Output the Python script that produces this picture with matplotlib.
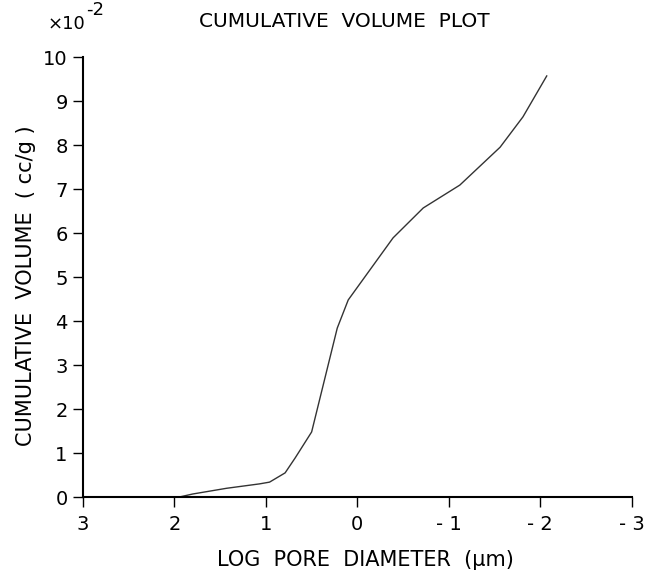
# Cumulative volume plot (pore size distribution), redrawn from a plotter scan

import matplotlib
matplotlib.use("Agg")
import matplotlib.pyplot as plt

# log pore diameter (um) vs cumulative volume (x1e-2 cc/g)
log_diam = [1.95, 1.80, 1.43, 1.07, 0.96, 0.79, 0.68, 0.50, 0.22, 0.10,
            -0.39, -0.72, -1.12, -1.56, -1.81, -2.07]
cum_vol = [0.00, 0.07, 0.20, 0.30, 0.34, 0.55, 0.89, 1.48, 3.84, 4.48,
           5.89, 6.57, 7.09, 7.95, 8.64, 9.57]

x_ticks = [3, 2, 1, 0, -1, -2, -3]
x_labels = ['3', '2', '1', '0', '- 1', '- 2', '- 3']
y_ticks = list(range(0, 11))

plt.rcParams['font.family'] = ['DejaVu Sans']

fig = plt.figure(figsize=(6.48, 5.76), dpi=100)
ax = fig.add_axes([0.128, 0.137, 0.847, 0.764])

ax.plot(log_diam, cum_vol, color='#333333', linewidth=1.0)

ax.set_xlim(3, -3)
ax.set_ylim(0, 10)
ax.set_xticks(x_ticks)
ax.set_xticklabels(x_labels)
ax.set_yticks(y_ticks)

for side in ['top', 'right']:
    ax.spines[side].set_visible(False)
for side in ['left', 'bottom']:
    ax.spines[side].set_linewidth(1.5)

ax.tick_params(axis='both', direction='out', length=7, width=1.0,
               labelsize=14, colors='black')
ax.tick_params(axis='x', pad=6)
ax.tick_params(axis='y', pad=4)

ax.set_xlabel('LOG  PORE  DIAMETER  (\u03bcm)', fontsize=15)
ax.xaxis.set_label_coords(0.515, -0.12)
ax.set_ylabel('CUMULATIVE  VOLUME  ( cc/g )', fontsize=15)
ax.yaxis.set_label_coords(-0.085, 0.48)

fig.text(0.532, 0.963, 'CUMULATIVE  VOLUME  PLOT', fontsize=14.5, ha='center', va='center')
# axis multiplier, drawn like the plotter did: big raised exponent
fig.text(0.074, 0.958, '\u00d710', fontsize=13, ha='left', va='center')
fig.text(0.133, 0.982, '-2', fontsize=13, ha='left', va='center')

fig.savefig('out.png', dpi=100, facecolor='white')
